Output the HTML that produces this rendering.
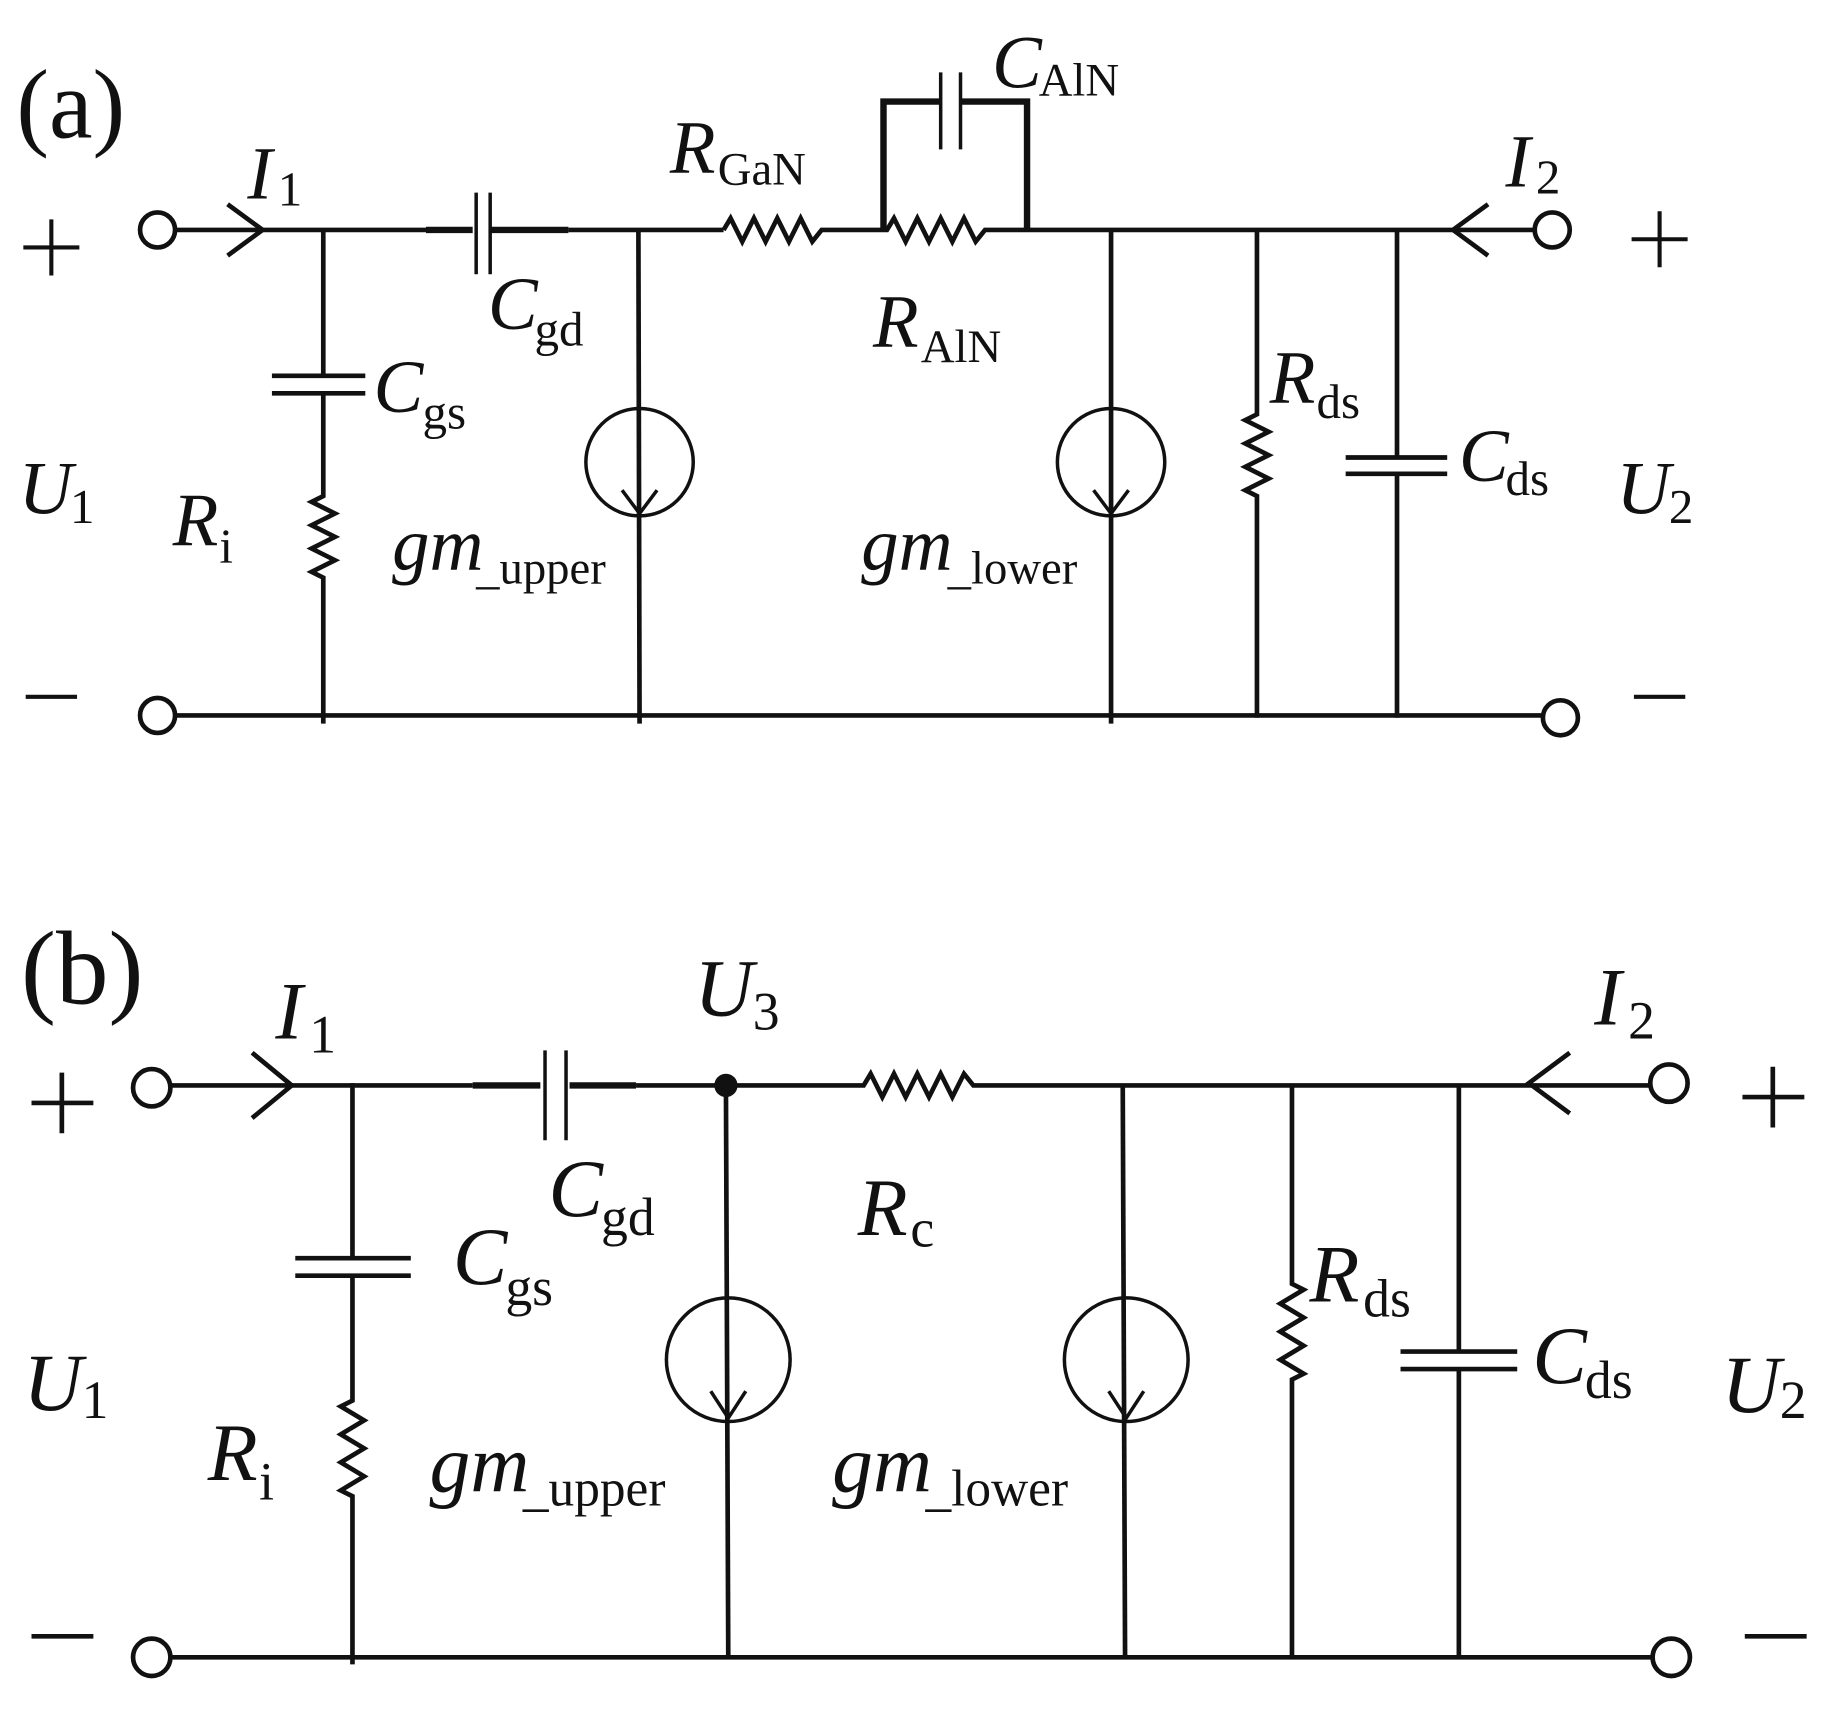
<!DOCTYPE html>
<html><head><meta charset="utf-8"><style>
html,body{margin:0;padding:0;background:#fff;}
svg{display:block;}
text{font-family:"Liberation Serif","Times New Roman",serif;fill:#111;}
.i{font-style:italic;}
</style></head><body>
<svg width="1830" height="1718" viewBox="0 0 1568 1472" preserveAspectRatio="none" xmlns="http://www.w3.org/2000/svg">
<g fill="none" stroke="#111" stroke-width="4" stroke-linejoin="miter">
<!-- (a) -->
<path d="M150 197 H365"/><path d="M365 197 H405" stroke-width="5.5"/><path d="M420 197 H487" stroke-width="5.5"/>
<path d="M487 197 H620"/>
<path d="M408 165 V235 M420 165 V235" stroke-width="3"/>
<path d="M620 197 l6 -10 l10 20 l10 -20 l10 20 l10 -20 l10 20 l10 -20 l10 20 l8 -10 H760 l6 -10 l10 20 l10 -20 l10 20 l10 -20 l10 20 l10 -20 l10 20 l8 -10 H1315"/>
<path d="M757 197 V87 H806 M823 87 H880 V197" stroke-width="5.5"/>
<path d="M806 62 V128 M823 62 V128" stroke-width="3"/>
<path d="M195 175 L225 197 L195 219"/>
<path d="M1275 175 L1245 197 L1275 219"/>
<circle cx="135" cy="197" r="15"/><circle cx="1330" cy="197" r="15"/>
<circle cx="135" cy="613" r="15"/><circle cx="1337" cy="615" r="15"/>
<path d="M150 613 H1322"/>
<path d="M277 197 V322 M277 337 V425 l-10 5 l20 10 l-20 10 l20 10 l-20 10 l20 10 l-20 10 l10 5 V620"/>
<path d="M233 322 H313 M233 337 H313"/>
<path d="M547 197 L548 620"/><circle cx="548" cy="396" r="46" stroke-width="3"/><path d="M533 420 L548 440 L563 420" stroke-width="3"/>
<path d="M952 197 V620"/><circle cx="952" cy="396" r="46" stroke-width="3"/><path d="M937 420 L952 440 L967 420" stroke-width="3"/>
<path d="M1077 197 V355 l-10 5 l20 10 l-20 10 l20 10 l-20 10 l20 10 l-20 10 l10 5 V615"/>
<path d="M1197 197 V392 M1197 406 V615 M1153 392 H1240 M1153 406 H1240"/>
<!-- (b) -->
<path d="M145 930 H405"/><path d="M405 930 H463" stroke-width="5.5"/><path d="M488 930 H545" stroke-width="5.5"/>
<path d="M545 930 H740 l6 -10 l10 20 l10 -20 l10 20 l10 -20 l10 20 l10 -20 l10 20 l10 -20 l8 10 H1415"/>
<path d="M467 900 V977 M485 900 V977" stroke-width="3"/>
<path d="M216 902 L250 930 L216 958"/>
<path d="M1345 902 L1310 928 L1345 954"/>
<circle cx="130" cy="932" r="16"/><circle cx="1430" cy="928" r="16"/>
<circle cx="130" cy="1420" r="16"/><circle cx="1432" cy="1420" r="16"/>
<path d="M146 1420 H1416"/>
<path d="M302 928 V1078 M302 1093 V1200 l-10 5 l20 12 l-20 12 l20 12 l-20 12 l20 12 l-20 12 l10 5 V1426"/>
<path d="M253 1078 H352 M253 1093 H352"/>
<path d="M622 930 L624 1420"/><circle cx="624" cy="1165" r="53" stroke-width="3"/><path d="M609 1192 L624 1215 L639 1192" stroke-width="3"/>
<path d="M962 930 L964 1420"/><circle cx="965" cy="1165" r="53" stroke-width="3"/><path d="M950 1192 L965 1215 L980 1192" stroke-width="3"/>
<path d="M1107 930 V1100 l10 5 l-20 12 l20 12 l-20 12 l20 12 l-20 12 l20 12 l-10 5 V1420"/>
<path d="M1250 930 V1158 M1250 1173 V1420 M1200 1158 H1300 M1200 1173 H1300"/>
<!-- plus / minus signs -->
<path d="M20 212 H68 M44 188 V236 M22 597 H66 M1398 205 H1446 M1422 181 V229 M1400 597 H1444" stroke-width="3.5"/>
<path d="M27 945 H80 M53 919 V971 M27 1402 H80 M1493 940 H1546 M1519 914 V966 M1495 1402 H1548" stroke-width="4"/>
</g>
<circle cx="622" cy="930" r="10" fill="#111"/>
<g font-size="64">
<!-- (a) labels -->
<text x="14" y="118" font-size="84">(a)</text>
<text x="212" y="170" class="i">I</text><text x="238" y="176" font-size="42">1</text>
<text x="1290" y="160" class="i">I</text><text x="1316" y="166" font-size="42">2</text>
<text x="16" y="440" class="i">U</text><text x="60" y="448" font-size="42">1</text>
<text x="1385" y="440" class="i">U</text><text x="1430" y="448" font-size="42">2</text>
<text x="418" y="282" class="i">C</text><text x="458" y="296" font-size="42">gd</text>
<text x="320" y="353" class="i">C</text><text x="362" y="367" font-size="42">gs</text>
<text x="148" y="467" class="i">R</text><text x="188" y="482" font-size="42">i</text>
<text x="574" y="148" class="i">R</text><text x="615" y="158" font-size="40">GaN</text>
<text x="850" y="75" class="i">C</text><text x="890" y="82" font-size="40">AlN</text>
<text x="748" y="297" class="i">R</text><text x="789" y="310" font-size="40">AlN</text>
<text x="336" y="488" class="i">gm</text><text x="408" y="500" font-size="40">_upper</text>
<text x="738" y="488" class="i">gm</text><text x="812" y="500" font-size="40">_lower</text>
<text x="1088" y="345" class="i">R</text><text x="1128" y="358" font-size="42">ds</text>
<text x="1250" y="412" class="i">C</text><text x="1290" y="424" font-size="42">ds</text>
<!-- (b) labels -->
<text x="18" y="860" font-size="90">(b)</text>
<text x="236" y="890" font-size="70" class="i">I</text><text x="265" y="902" font-size="46">1</text>
<text x="1366" y="878" font-size="70" class="i">I</text><text x="1395" y="890" font-size="46">2</text>
<text x="595" y="870" font-size="70" class="i">U</text><text x="645" y="882" font-size="46">3</text>
<text x="20" y="1208" font-size="70" class="i">U</text><text x="70" y="1215" font-size="46">1</text>
<text x="1475" y="1210" font-size="70" class="i">U</text><text x="1525" y="1215" font-size="46">2</text>
<text x="470" y="1042" font-size="70" class="i">C</text><text x="515" y="1058" font-size="46">gd</text>
<text x="388" y="1100" font-size="70" class="i">C</text><text x="433" y="1118" font-size="46">gs</text>
<text x="178" y="1268" font-size="70" class="i">R</text><text x="222" y="1285" font-size="46">i</text>
<text x="735" y="1058" font-size="70" class="i">R</text><text x="780" y="1068" font-size="46">c</text>
<text x="368" y="1278" font-size="70" class="i">gm</text><text x="448" y="1290" font-size="44">_upper</text>
<text x="713" y="1278" font-size="70" class="i">gm</text><text x="793" y="1290" font-size="44">_lower</text>
<text x="1122" y="1115" font-size="70" class="i">R</text><text x="1168" y="1128" font-size="46">ds</text>
<text x="1313" y="1185" font-size="70" class="i">C</text><text x="1358" y="1198" font-size="46">ds</text>
</g>
</svg>
</body></html>
